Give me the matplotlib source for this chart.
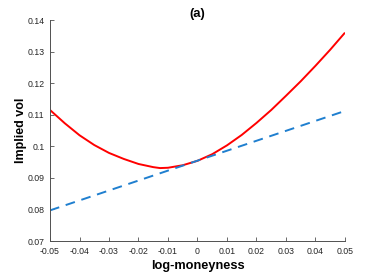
import matplotlib
matplotlib.use("Agg")
import matplotlib.pyplot as plt

plt.rcParams['font.family'] = ['Liberation Sans', 'DejaVu Sans']

x_smile = [-0.05, -0.045, -0.04, -0.035, -0.03, -0.025, -0.02, -0.015, -0.0127,
           -0.01, -0.005, 0.0, 0.005, 0.01, 0.015, 0.02, 0.025, 0.03, 0.035,
           0.04, 0.045, 0.05]
vol_smile = [0.1115, 0.1073, 0.1035, 0.1004, 0.0979, 0.0960, 0.0944, 0.0934, 0.0931,
             0.0932, 0.0940, 0.0954, 0.0975, 0.1003, 0.1036, 0.1074, 0.1115, 0.1160,
             0.1206, 0.1255, 0.1306, 0.1360]
x_line = [-0.05, 0.05]
vol_line = [0.0797, 0.1112]

xticks = [-0.05, -0.04, -0.03, -0.02, -0.01, 0, 0.01, 0.02, 0.03, 0.04, 0.05]
xticklabels = ['-0.05', '-0.04', '-0.03', '-0.02', '-0.01', '0', '0.01', '0.02', '0.03', '0.04', '0.05']
yticks = [0.07, 0.08, 0.09, 0.1, 0.11, 0.12, 0.13, 0.14]
yticklabels = ['0.07', '0.08', '0.09', '0.1', '0.11', '0.12', '0.13', '0.14']

fig = plt.figure(figsize=(3.82, 2.73), dpi=100)
ax = fig.add_axes([0.1309, 0.1172, 0.7722, 0.8095])

ax.plot(x_smile, vol_smile, color='#ff0000', lw=1.4, solid_capstyle='butt',
        solid_joinstyle='round')
ax.plot(x_line, vol_line, color='#1f7fcf', lw=1.4, dashes=(5, 3.5))

ax.set_xlim(-0.05, 0.05)
ax.set_ylim(0.07, 0.14)
ax.set_xticks(xticks)
ax.set_xticklabels(xticklabels)
ax.set_yticks(yticks)
ax.set_yticklabels(yticklabels)

for s in ['top', 'right']:
    ax.spines[s].set_visible(False)
for s in ['left', 'bottom']:
    ax.spines[s].set_color('#505050')
    ax.spines[s].set_linewidth(0.7)

ax.tick_params(direction='in', length=3, width=0.6, color='#505050',
               labelsize=6.3, labelcolor='#262626')
ax.tick_params(axis='x', pad=4.5)
ax.tick_params(axis='y', pad=4)

ax.set_xlabel('log-moneyness', fontsize=9.2, fontweight='bold', labelpad=3)
ax.set_ylabel('Implied vol', fontsize=9.0, fontweight='bold', labelpad=0)
ax.set_title('(a)', fontsize=9.4, fontweight='bold', pad=2)

fig.savefig('out.png', dpi=100)
